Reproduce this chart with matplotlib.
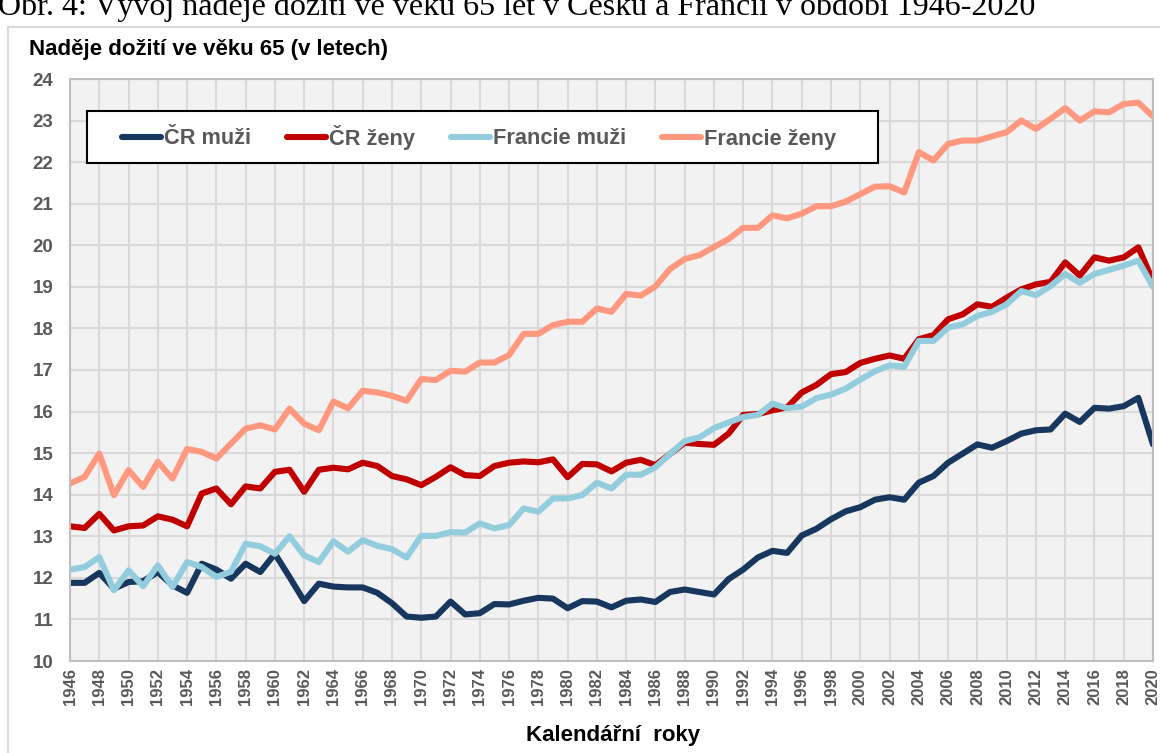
import matplotlib
matplotlib.use("Agg")
import matplotlib.pyplot as plt
from matplotlib.patches import Rectangle

# years 1946-2020
years = list(range(1946, 2021))

cr_muzi = [11.88, 11.88, 12.12, 11.74, 11.90, 11.92, 12.14, 11.82, 11.64, 12.34,
           12.20, 11.98, 12.34, 12.14, 12.58, 12.02, 11.44, 11.86, 11.79, 11.77,
           11.77, 11.64, 11.39, 11.07, 11.04, 11.07, 11.43, 11.12, 11.15, 11.37,
           11.36, 11.45, 11.52, 11.50, 11.27, 11.44, 11.43, 11.29, 11.45, 11.48,
           11.42, 11.66, 11.72, 11.66, 11.60, 11.97, 12.20, 12.49, 12.65, 12.60,
           13.02, 13.18, 13.41, 13.60, 13.70, 13.88, 13.94, 13.88, 14.29, 14.45,
           14.77, 14.99, 15.21, 15.13, 15.29, 15.47, 15.55, 15.57, 15.95, 15.75,
           16.09, 16.07, 16.13, 16.33, 15.21]

cr_zeny = [13.24, 13.20, 13.54, 13.14, 13.24, 13.26, 13.48, 13.40, 13.24, 14.03,
           14.15, 13.77, 14.20, 14.15, 14.55, 14.60, 14.07, 14.60, 14.65, 14.61,
           14.77, 14.69, 14.45, 14.37, 14.23, 14.43, 14.66, 14.47, 14.45, 14.69,
           14.77, 14.80, 14.78, 14.85, 14.42, 14.74, 14.73, 14.56, 14.77, 14.84,
           14.71, 14.98, 15.25, 15.22, 15.20, 15.47, 15.92, 15.94, 16.03, 16.10,
           16.46, 16.64, 16.90, 16.95, 17.17, 17.27, 17.35, 17.27, 17.74, 17.84,
           18.22, 18.34, 18.58, 18.52, 18.74, 18.94, 19.06, 19.12, 19.59, 19.27,
           19.71, 19.63, 19.71, 19.95, 19.14]

fr_muzi = [12.20, 12.26, 12.50, 11.70, 12.18, 11.80, 12.30, 11.78, 12.38, 12.26,
           12.02, 12.15, 12.82, 12.76, 12.58, 13.00, 12.54, 12.38, 12.88, 12.63,
           12.91, 12.77, 12.69, 12.49, 13.01, 13.01, 13.10, 13.09, 13.31, 13.19,
           13.27, 13.67, 13.59, 13.91, 13.91, 13.99, 14.29, 14.15, 14.48, 14.48,
           14.66, 14.98, 15.29, 15.38, 15.60, 15.74, 15.87, 15.92, 16.19, 16.08,
           16.12, 16.32, 16.41, 16.55, 16.77, 16.97, 17.11, 17.08, 17.70, 17.70,
           18.02, 18.10, 18.30, 18.40, 18.58, 18.90, 18.80, 19.02, 19.31, 19.10,
           19.31, 19.41, 19.51, 19.63, 19.00]

fr_zeny = [14.27, 14.43, 14.99, 13.99, 14.59, 14.19, 14.79, 14.39, 15.10, 15.03,
           14.87, 15.23, 15.59, 15.67, 15.57, 16.07, 15.71, 15.55, 16.24, 16.08,
           16.50, 16.46, 16.38, 16.26, 16.78, 16.76, 16.98, 16.96, 17.18, 17.18,
           17.36, 17.87, 17.87, 18.08, 18.16, 18.16, 18.48, 18.40, 18.83, 18.79,
           19.01, 19.43, 19.67, 19.76, 19.96, 20.15, 20.42, 20.42, 20.72, 20.65,
           20.76, 20.94, 20.94, 21.05, 21.23, 21.41, 21.42, 21.27, 22.24, 22.04,
           22.44, 22.52, 22.52, 22.62, 22.72, 23.00, 22.80, 23.04, 23.30, 23.00,
           23.22, 23.20, 23.40, 23.43, 23.10]

labels = ["ČR muži", "ČR ženy", "Francie muži", "Francie ženy"]
colors = ["#17375E", "#C00000", "#93CDDD", "#FF987F"]

plt.rcParams['font.family'] = ['Liberation Sans', 'DejaVu Sans']

W, H = 1160, 753
fig = plt.figure(figsize=(W / 100, H / 100), dpi=100)
ax = fig.add_axes([70 / W, 1 - 661 / H, (1153 - 70) / W, (661 - 79) / H])
ax.set_facecolor("#F2F2F2")

for vals, lab, col in zip([cr_muzi, cr_zeny, fr_muzi, fr_zeny], labels, colors):
    ax.plot(years, vals, color=col, linewidth=4.4, label=lab,
            solid_capstyle='round', solid_joinstyle='round')

ax.set_xlim(1946, 2020)
ax.set_ylim(10, 24)
ax.set_xticks(range(1946, 2021, 2))
ax.set_yticks(range(10, 25))
ax.tick_params(axis='x', length=0, pad=5, rotation=90, labelsize=12, labelcolor="#595959")
ax.tick_params(axis='y', length=0, pad=12, labelsize=13.5, labelcolor="#595959")
for lbl in ax.get_xticklabels() + ax.get_yticklabels():
    lbl.set_fontweight('bold')

ax.grid(True, color="#D9D9D9", linewidth=1.5)
ax.set_axisbelow(True)
for side in ['left', 'bottom', 'right', 'top']:
    ax.spines[side].set_color("#BFBFBF")
    ax.spines[side].set_linewidth(1.5)

# legend box
box = Rectangle((87 / W, 1 - 163 / H), (878 - 87) / W, (163 - 111) / H,
                transform=fig.transFigure, facecolor='white', edgecolor='black',
                linewidth=1.5, zorder=5)
fig.patches.append(box)
leg = fig.legend(loc='center left', bbox_to_anchor=(122 / W, 1 - 137 / H),
                 ncol=4, frameon=False, fontsize=15.7, handlelength=1.8,
                 handletextpad=0.12, columnspacing=1.65, borderpad=0,
                 borderaxespad=0)
leg.set_zorder(6)
for t in leg.get_texts():
    t.set_color("#595959")
    t.set_fontweight('bold')

# outer chart frame
frame = Rectangle((8 / W, -0.05), 1.1, 1 - 27 / H + 0.05, transform=fig.transFigure,
                  fill=False, edgecolor="#D9D9D9", linewidth=1.5, clip_on=False)
fig.patches.append(frame)

fig.text(29 / W, 1 - 50 / H, "Naděje dožití ve věku 65 (v letech)", fontsize=16,
         fontweight='bold', va='center', ha='left', color='black')
fig.text(613 / W, 1 - 735 / H, "Kalendářní  roky", fontsize=16,
         fontweight='bold', va='center', ha='center', color='black')

# caption cut at the top edge, as in the source
fig.text(-2 / W, 1 - 15 / H,
         "Obr. 4: Vývoj naděje dožití ve věku 65 let v Česku a Francii v období 1946-2020",
         fontsize=23, family=['Liberation Serif', 'DejaVu Serif'], va='baseline', ha='left')

fig.savefig("out.png", dpi=100)
